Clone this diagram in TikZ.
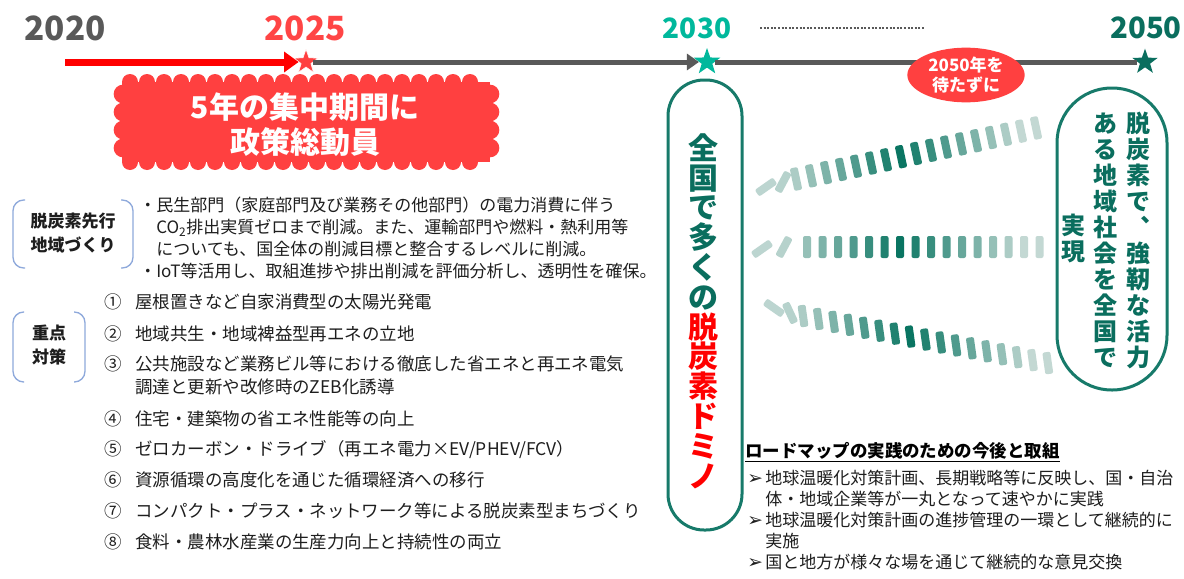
\documentclass[tikz,border=0pt]{standalone}
\usepackage{fontspec}
\setmainfont{Noto Sans CJK JP}
\newfontfamily\arrowfont{DejaVu Sans}
\usetikzlibrary{arrows.meta,shapes.geometric}

\definecolor{yrgray}{HTML}{595959}
\definecolor{yrred}{HTML}{FF4545}
\definecolor{burstred}{HTML}{FF4040}
\definecolor{arrowred}{HTML}{FF0000}
\definecolor{tealA}{HTML}{00B89C}
\definecolor{tealD}{HTML}{0A6E5E}
\definecolor{pillteal}{HTML}{177A6A}
\definecolor{domdark}{HTML}{0A7562}
\definecolor{domlight}{HTML}{DCE6E3}
\definecolor{brkblue}{HTML}{8EA9DB}
\definecolor{txtdark}{HTML}{1E1E1E}

\begin{document}
\begin{tikzpicture}[x=0.75pt,y=-0.75pt,
	year/.style={inner sep=0,font=\bfseries\fontsize{25}{25}\selectfont},
	mark star/.style={star,star points=5,star point ratio=2.5,inner sep=0,minimum size=#1},
	brk/.style={draw=brkblue,line width=1pt,rounded corners=8pt},
	domino/.style={rounded corners=1.5pt}]
\fill[white] (0,0) rectangle (1184,578);
\useasboundingbox (0,0) rectangle (1184,578);

% years
\node [year,text=yrgray] (y2020) at (65,28) {2020};
\node [year,text=yrred] (y2025) at (305,28) {2025};
\node [year,text=tealA,font=\bfseries\fontsize{21}{21}\selectfont] (y2030) at (697,28) {2030};
\node [year,text=tealD,font=\bfseries\fontsize{22}{22}\selectfont] (y2050) at (1146,28) {2050};
\coordinate (dotL) at (760,28);
\coordinate (dotR) at (925,28);
\draw [yrgray,line width=1.5pt,dash pattern=on 1.5pt off 1.2pt] (dotL) -- (dotR);

% timeline
\node [mark star=19pt,fill=burstred,draw=white] (s2025) at (306,62) {};
\node [mark star=21pt,fill=tealA] (s2030) at (707,62) {};
\node [mark star=20pt,fill=tealD] (s2050) at (1145,62) {};
\coordinate (start) at (65,62);
\draw [arrowred,line width=5.25pt,-{Triangle[length=11pt,width=15pt]}] (start) -- (s2025.west);
\draw [yrgray,line width=3.75pt,-{Triangle[length=9pt,width=12pt]}] (s2025.east) -- (s2030.west);
\draw [yrgray,line width=3.75pt] (s2030.east) -- (s2050.west);

% burst
\fill [burstred] (122,82) rectangle (490,162);
\foreach \x in {130,147,...,484}{
	\fill [burstred] (\x,82) circle (6pt);
	\fill [burstred] (\x,162) circle (6pt);
}
\foreach \y in {94,112,130,148}{
	\fill [burstred] (123,\y) circle (7pt);
	\fill [burstred] (490,\y) circle (7pt);
}
\node [inner sep=0,align=center,text=white,font=\bfseries\fontsize{22.5}{26.25}\selectfont] (burst) at (305,125) {5年の集中期間に\\政策総動員};

\node [ellipse,fill=burstred,minimum width=88pt,minimum height=41pt,inner sep=0,align=center,text=white,font=\bfseries\fontsize{12.75}{15}\selectfont] (nowait) at (966,75) {2050年を\\待たずに};

% left blocks
\draw [brk] (25,200) -- (13,200) -- (13,268) -- (25,268);
\draw [brk] (121,200) -- (133,200) -- (133,268) -- (121,268);
\node [inner sep=0,align=center,text=txtdark,font=\bfseries\fontsize{12.75}{18}\selectfont] (lead) at (73,233) {脱炭素先行\\地域づくり};
\node [anchor=north west,inner sep=0,align=left,text=txtdark,font=\fontsize{12.75}{16.3}\selectfont] (leadtxt) at (139,197) {・民生部門（家庭部門及び業務その他部門）の電力消費に伴う\\\phantom{・}CO\textsubscript{2}排出実質ゼロまで削減。また、運輸部門や燃料・熱利用等\\\phantom{・}についても、国全体の削減目標と整合するレベルに削減。\\・IoT等活用し、取組進捗や排出削減を評価分析し、透明性を確保。};

\draw [brk] (24,312) -- (13,312) -- (13,382) -- (24,382);
\draw [brk] (74,312) -- (85,312) -- (85,382) -- (74,382);
\node [inner sep=0,align=center,text=txtdark,font=\bfseries\fontsize{12.75}{18}\selectfont] (key) at (49,345) {重点\\対策};

\foreach \y/\c/\t [count=\k] in {308/①/{屋根置きなど自家消費型の太陽光発電},
	340/②/{地域共生・地域裨益型再エネの立地},
	370/③/{公共施設など業務ビル等における徹底した省エネと再エネ電気\\調達と更新や改修時のZEB化誘導},
	425/④/{住宅・建築物の省エネ性能等の向上},
	455/⑤/{ゼロカーボン・ドライブ（再エネ電力×EV/PHEV/FCV）},
	486/⑥/{資源循環の高度化を通じた循環経済への移行},
	517/⑦/{コンパクト・プラス・ネットワーク等による脱炭素型まちづくり},
	548/⑧/{食料・農林水産業の生産力向上と持続性の両立}}{
	\node [anchor=base,inner sep=0,text=txtdark,font=\fontsize{13.1}{17.25}\selectfont] (num\k) at (113,\y) {\c};
	\node [anchor=base west,inner sep=0,text=txtdark,font=\fontsize{13.1}{17.25}\selectfont] (item\k) at (135,\y) {\begin{tabular}[t]{@{}l@{}}\t\end{tabular}};
}

% pills
\node [draw=pillteal,line width=2.25pt,rounded corners=27pt,minimum width=55.5pt,minimum height=337.5pt,inner sep=0] (leftpill) at (705,305) {};
\node [inner sep=0,align=center,text=tealD,font=\bfseries\fontsize{22.5}{22.35}\selectfont] (domtxt) at (703,311) {全\\国\\で\\多\\く\\の\\\textcolor{arrowred}{脱}\\\textcolor{arrowred}{炭}\\\textcolor{arrowred}{素}\\\textcolor{arrowred}{ド}\\\textcolor{arrowred}{ミ}\\\textcolor{arrowred}{ノ}};

\node [draw=pillteal,line width=2.25pt,rounded corners=41pt,minimum width=82.5pt,minimum height=226.5pt,inner sep=0] (rightpill) at (1112,239) {};
\node [inner sep=0,align=center,text=tealD,font=\bfseries\fontsize{18}{19.5}\selectfont] (goal1) at (1138,240) {脱\\炭\\素\\で\\︑\\強\\靭\\な\\活\\力};
\node [inner sep=0,align=center,text=tealD,font=\bfseries\fontsize{18}{19.5}\selectfont] (goal2) at (1105,240) {あ\\る\\地\\域\\社\\会\\を\\全\\国\\で};
\node [inner sep=0,align=center,text=tealD,font=\bfseries\fontsize{18}{19.5}\selectfont] (goal3) at (1073,238) {実\\現};

% dominoes
\foreach \i in {0,...,16}{
	\pgfmathsetmacro{\cx}{796+15*\i}
	\pgfmathsetmacro{\cy}{179-3.19*\i}
	\pgfmathtruncatemacro{\pct}{max(12,100-11*abs(\i-7))}
	\fill [domino,domdark!\pct!domlight,rotate around={12:(\cx,\cy)}] (\cx-4,\cy-11.5) rectangle (\cx+4,\cy+11.5);
}
\foreach \i in {0,...,15}{
	\pgfmathsetmacro{\cx}{807+15.5*\i}
	\pgfmathtruncatemacro{\pct}{max(12,100-11*abs(\i-6))}
	\fill [domino,domdark!\pct!domlight] (\cx-4,236) rectangle (\cx+4,258);
}
\foreach \i in {0,...,16}{
	\pgfmathsetmacro{\cx}{803+15.3*\i}
	\pgfmathsetmacro{\cy}{316+2.94*\i}
	\pgfmathtruncatemacro{\pct}{max(12,100-11*abs(\i-7))}
	\fill [domino,domdark!\pct!domlight,rotate around={8:(\cx,\cy)}] (\cx-4,\cy-11) rectangle (\cx+4,\cy+11);
}
% fallen ones
\fill [domino,domdark!15!domlight,rotate around={-55:(766,187)}] (762,176) rectangle (770,198);
\fill [domino,domdark!18!domlight,rotate around={-28:(783,182)}] (779,171) rectangle (787,193);
\fill [domino,domdark!15!domlight,rotate around={-55:(762,249)}] (758,238) rectangle (766,260);
\fill [domino,domdark!18!domlight,rotate around={-28:(784,247)}] (780,236) rectangle (788,258);
\fill [domino,domdark!15!domlight,rotate around={55:(774,308)}] (770,297) rectangle (778,319);
\fill [domino,domdark!18!domlight,rotate around={25:(790,313)}] (786,302) rectangle (794,324);

% roadmap
\node [anchor=west,inner sep=0,text=black,font=\bfseries\fontsize{13.1}{16}\selectfont] (rmhead) at (745,452) {\underline{ロードマップの実践のための今後と取組}};
\node [anchor=north west,inner sep=0,align=left,text=txtdark,font=\fontsize{12.75}{15.75}\selectfont] (rmtxt) at (747,470) {\makebox[13.5pt][l]{\arrowfont\fontsize{14}{14}\selectfont ➢}地球温暖化対策計画、長期戦略等に反映し、国・自治\\\hspace*{13.5pt}体・地域企業等が一丸となって速やかに実践\\\makebox[13.5pt][l]{\arrowfont\fontsize{14}{14}\selectfont ➢}地球温暖化対策計画の進捗管理の一環として継続的に\\\hspace*{13.5pt}実施\\\makebox[13.5pt][l]{\arrowfont\fontsize{14}{14}\selectfont ➢}国と地方が様々な場を通じて継続的な意見交換};
\end{tikzpicture}
\end{document}
